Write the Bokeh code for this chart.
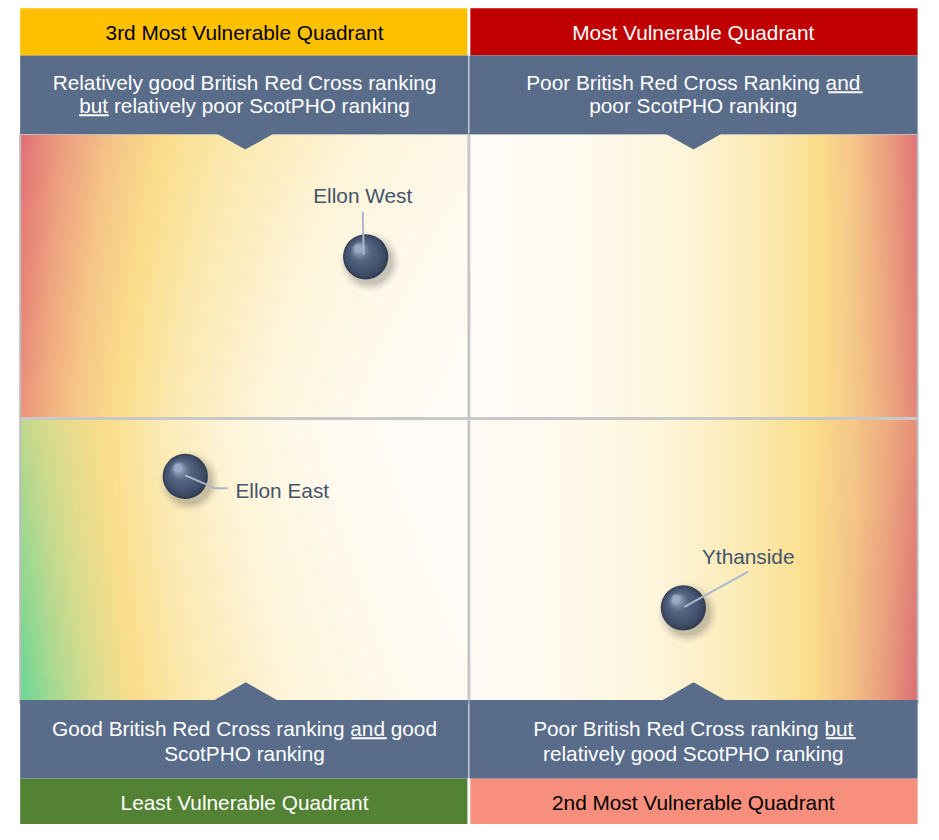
import numpy as np
from bokeh.plotting import figure
from bokeh.models import Range1d
from bokeh.embed import file_html
from bokeh.resources import INLINE
from bokeh.core.properties import value

# ---------------- data ----------------
areas = ["Ellon West", "Ellon East", "Ythanside"]
# position on the British Red Cross ranking axis (0 = good, 100 = poor)
brc_rank = [38.5, 18.4, 73.9]
# position on the ScotPHO ranking axis (0 = good, 100 = poor)
scotpho_rank = [78.4, 39.8, 16.7]

quadrant_titles = ["3rd Most Vulnerable Quadrant", "Most Vulnerable Quadrant",
                   "Least Vulnerable Quadrant", "2nd Most Vulnerable Quadrant"]
quadrant_desc = [
    ["Relatively good British Red Cross ranking", "but relatively poor ScotPHO ranking"],
    ["Poor British Red Cross Ranking and", "poor ScotPHO ranking"],
    ["Good British Red Cross ranking and good", "ScotPHO ranking"],
    ["Poor British Red Cross ranking but", "relatively good ScotPHO ranking"],
]

# ---------------- layout helpers (reference pixels -> data units) ----------------
SX, SY = 9.13, 5.8
K = 923.0 / 939.0          # overall scale of the figure vs. reference layout
def rx(px):
    return (px - 20) / SX
def ry(py):
    return (716 - py) / SY

FONT = value("Liberation Sans")
FS = "20.8px"

p = figure(width=923, height=824, x_range=Range1d(rx(0), rx(939)),
           y_range=Range1d(ry(840), ry(0)), output_backend="svg",
           toolbar_location=None, min_border=0)
p.xaxis.visible = False
p.yaxis.visible = False
p.grid.visible = False
p.outline_line_color = None
p.background_fill_color = "white"
p.border_fill_color = "white"

# ---------------- background gradient ----------------
W, H = 457, 290
X = 20 + (np.arange(W) + 0.5) * 913.0 / W
Y = 136 + (np.arange(H) + 0.5) * 580.0 / H
XX, YY = np.meshgrid(X, Y)
left = XX < 476.5
top = YY < 426.5
d = np.where(left, XX - 20, 933 - XX)
vt = np.clip((YY - 136) / 290.0, 0, 1)   # within top half
vb = np.clip((YY - 427) / 289.0, 0, 1)   # within bottom half

scale = np.where(left & top, 0.75 + 0.35 * vt,
         np.where(left & ~top, 1.25 - 0.3 * vb,
         np.where(~left & top, 1.1, 1.0)))
de = d * scale

def lerp(a, b, t):
    return a + (b - a) * t

edge = np.zeros(XX.shape + (3,))
tl0, tl1 = np.array([226, 112, 118]), np.array([236, 148, 122])
bl0, bl1 = np.array([192, 216, 140]), np.array([104, 214, 150])
tr0, tr1 = np.array([224, 112, 118]), np.array([228, 132, 120])
br0, br1 = np.array([230, 140, 120]), np.array([220, 108, 116])
for c in range(3):
    edge[..., c] = np.where(left & top, lerp(tl0[c], tl1[c], vt),
                   np.where(left & ~top, lerp(bl0[c], bl1[c], vb),
                   np.where(~left & top, lerp(tr0[c], tr1[c], vt),
                            lerp(br0[c], br1[c], vb))))

yellow = np.array([251, 222, 140])
stops_d = [0, 30, 65, 110, 170, 260, 370, 470]
fixed = [None, None, None, yellow, np.array([252, 234, 178]),
         np.array([254, 245, 218]), np.array([255, 250, 238]), np.array([255, 252, 247])]
rgb = np.zeros(XX.shape + (3,))
for c in range(3):
    cols = [edge[..., c],
            lerp(edge[..., c], yellow[c], 0.38),
            lerp(edge[..., c], yellow[c], 0.72)] + [np.full(XX.shape, f[c], float) for f in fixed[3:]]
    out = np.zeros(XX.shape)
    for k in range(len(stops_d) - 1):
        t = np.clip((de - stops_d[k]) / (stops_d[k + 1] - stops_d[k]), 0, 1)
        m = (de >= stops_d[k]) & (de < stops_d[k + 1])
        out = np.where(m, lerp(cols[k], cols[k + 1], t), out)
    out = np.where(de >= stops_d[-1], cols[-1], out)
    rgb[..., c] = out

img = np.empty((H, W), dtype=np.uint32)
view = img.view(dtype=np.uint8).reshape((H, W, 4))
view[..., 0] = np.clip(rgb[..., 0], 0, 255).astype(np.uint8)
view[..., 1] = np.clip(rgb[..., 1], 0, 255).astype(np.uint8)
view[..., 2] = np.clip(rgb[..., 2], 0, 255).astype(np.uint8)
view[..., 3] = 255
p.image_rgba(image=[img[::-1]], x=0, y=0, dw=100, dh=100)

# quadrant dividers and border
p.segment(x0=[50, 0], y0=[0, 50], x1=[50, 100], y1=[100, 50], line_color="#C8C8C8", line_width=3)
p.quad(left=0, right=100, bottom=0, top=100, fill_color=None, line_color="#BEBEBE", line_width=2)

# ---------------- header / footer boxes ----------------
BLUE = "#596D8A"
qx = [25, 75, 25, 75]
title_fill = ["#FFC000", "#C00000", "#548235", "#F78F7C"]
title_text_col = ["black", "white", "white", "black"]

# title bars
p.quad(left=[rx(20), rx(478), rx(20), rx(478)], right=[rx(475), rx(933), rx(475), rx(933)],
       bottom=[ry(56), ry(56), ry(846), ry(846)], top=[ry(8), ry(8), ry(793), ry(793)],
       fill_color=title_fill, line_color=None)
# description boxes
p.quad(left=[rx(20), rx(477), rx(20), rx(477)], right=[rx(476), rx(933), rx(476), rx(933)],
       bottom=[ry(136), ry(136), ry(793), ry(793)], top=[ry(56), ry(56), ry(713), ry(713)],
       fill_color=BLUE, line_color=None)
# pointers
p.patches(xs=[[rx(219), rx(249), rx(279)], [rx(675), rx(705), rx(735)],
              [rx(216), rx(249.5), rx(283)], [rx(672), rx(705), rx(739)]],
          ys=[[ry(135), ry(152), ry(135)], [ry(135), ry(152), ry(135)],
              [ry(714), ry(695), ry(714)], [ry(714), ry(695), ry(714)]],
          fill_color=BLUE, line_color=None)

# titles (y = vertical centre of the capitals)
p.text(x=qx, y=[ry(32.5), ry(32.5), ry(818), ry(818)], text=quadrant_titles,
       text_color=title_text_col, text_font=FONT, text_font_size=FS,
       text_align="center", text_baseline="middle")
# descriptions
line1_y = [ry(83.5), ry(83.5), ry(742.5), ry(742.5)]
line2_y = [ry(107.5), ry(107.5), ry(767.5), ry(767.5)]
p.text(x=qx, y=line1_y, text=[dsc[0] for dsc in quadrant_desc], text_color="white",
       text_font=FONT, text_font_size=FS, text_align="center", text_baseline="middle")
p.text(x=qx, y=line2_y, text=[dsc[1] for dsc in quadrant_desc], text_color="white",
       text_font=FONT, text_font_size=FS, text_align="center", text_baseline="middle")
# underlined words ("but", "and", "and", "but")
p.segment(x0=[rx(80), rx(842), rx(357), rx(840)], x1=[rx(110), rx(877), rx(393), rx(870)],
          y0=[ry(117), ry(93.5), ry(752), ry(752)], y1=[ry(117), ry(93.5), ry(752), ry(752)],
          line_color="white", line_width=2)

# ---------------- spheres ----------------
bx = np.array(brc_rank, dtype=float)
by = np.array(scotpho_rank, dtype=float)
R = 23
# soft shadow
for r, a in [(R + 8, 0.035), (R + 6, 0.05), (R + 4, 0.07), (R + 2, 0.09), (R, 0.10)]:
    p.scatter(x=bx + 4 / SX, y=by - 5 / SY, size=2 * r * K, fill_color="#505050",
              fill_alpha=a, line_color=None)
dark = np.array([48, 60, 82])
midc = np.array([80, 97, 126])
light = np.array([152, 170, 198])
N = 16
for k in range(N):
    t = k / (N - 1)
    r = R * (1 - 0.82 * t)
    off = (R - r) * 0.6
    if t < 0.55:
        col = lerp(dark, midc, (t / 0.55) ** 0.6)
    else:
        col = lerp(midc, light, ((t - 0.55) / 0.45) ** 1.6)
    hexc = "#%02x%02x%02x" % tuple(int(v) for v in col)
    p.scatter(x=bx - off * 0.65 / SX, y=by + off * 0.75 / SY, size=2 * r * K,
              fill_color=hexc, line_color=None)

# leader lines (offsets in pixels from sphere centre)
leader_off = [[(-2, -2), (-3, -46)],
              [(0, -1), (30, 12), (43, 12)],
              [(1, -1), (66, -37)]]
p.multi_line(xs=[[bx[i] + ox / SX for ox, oy in leader_off[i]] for i in range(3)],
             ys=[[by[i] - oy / SY for ox, oy in leader_off[i]] for i in range(3)],
             line_color="#A8B8CE", line_width=2)

# labels (offsets of the capitals' centre from sphere centre)
label_off = [(-3, -62), (51, 14), (66, -52)]
label_align = ["center", "left", "center"]
p.text(x=[bx[i] + label_off[i][0] / SX for i in range(3)],
       y=[by[i] - label_off[i][1] / SY for i in range(3)],
       text=areas, text_align=label_align, text_baseline="middle",
       text_color="#44546A", text_font=FONT, text_font_size=FS)

open("out.html", "w").write(file_html(p, INLINE))
